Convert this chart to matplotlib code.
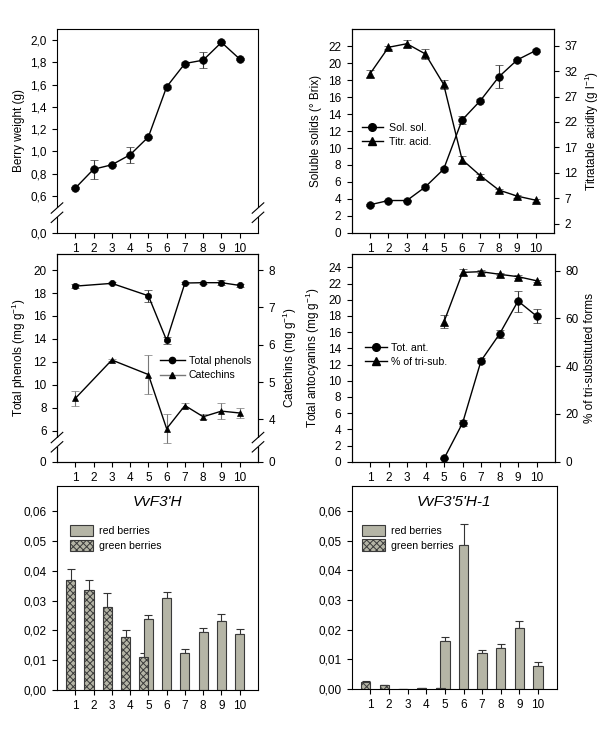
import matplotlib
matplotlib.use('Agg')
import matplotlib.pyplot as plt
import numpy as np
from matplotlib.ticker import FixedLocator, FuncFormatter
from matplotlib.lines import Line2D
from matplotlib.patches import Patch, Rectangle

plt.rcParams['font.family'] = ['Liberation Sans', 'DejaVu Sans']
plt.rcParams['font.size'] = 8.5
plt.rcParams['mathtext.default'] = 'regular'
plt.rcParams['hatch.linewidth'] = 0.7
plt.rcParams['axes.linewidth'] = 0.8

stages = np.arange(1, 11)

# berry weight (g)
weight = [0.67, 0.84, 0.88, 0.97, 1.13, 1.58, 1.79, 1.82, 1.98, 1.83]
weight_err = [0.01, 0.085, 0.01, 0.07, 0.01, 0.015, 0.01, 0.07, 0.01, 0.01]

# soluble solids (Brix) and titratable acidity (g/l)
sol_sol = [3.3, 3.8, 3.8, 5.4, 7.5, 13.3, 15.6, 18.4, 20.4, 21.5]
sol_err = [0.1, 0.1, 0.1, 0.25, 0.25, 0.45, 0.2, 1.35, 0.15, 0.2]
titr = [31.5, 36.7, 37.4, 35.4, 29.4, 14.6, 11.4, 8.6, 7.4, 6.6]
titr_err = [0.7, 0.3, 0.7, 1.0, 0.9, 0.65, 0.3, 0.3, 0.3, 0.3]

# total phenols / catechins (mg/g)
phen_x = [1, 3, 5, 6, 7, 8, 9, 10]
phenols = [18.6, 18.84, 17.76, 13.87, 18.87, 18.9, 18.9, 18.66]
phenols_err = [0.15, 0.08, 0.5, 0.3, 0.08, 0.08, 0.2, 0.1]
catechins = [4.56, 5.59, 5.2, 3.75, 4.37, 4.07, 4.22, 4.17]
catechins_err = [0.19, 0.04, 0.52, 0.4, 0.07, 0.07, 0.21, 0.13]

# anthocyanins
ant_x = [5, 6, 7, 8, 9, 10]
tot_ant = [0.4, 4.78, 12.47, 15.77, 19.84, 17.99]
tot_ant_err = [0.1, 0.35, 0.3, 0.5, 1.3, 0.9]
tri_sub = [58.7, 79.3, 79.6, 78.5, 77.5, 75.8]
tri_sub_err = [2.8, 1.3, 0.7, 0.5, 0.5, 0.5]

# gene expression
green_x = [1, 2, 3, 4, 5]
red_x = [5, 6, 7, 8, 9, 10]
f3h_green = [0.0369, 0.0336, 0.0278, 0.0178, 0.0109]
f3h_green_err = [0.0037, 0.0033, 0.0048, 0.0024, 0.0015]
f3h_red = [0.0239, 0.0308, 0.0124, 0.0193, 0.0232, 0.0189]
f3h_red_err = [0.0014, 0.0019, 0.0015, 0.0014, 0.0024, 0.0017]
f35h_green = [0.0025, 0.0012, 0.0, 0.0004, 0.0002]
f35h_green_err = [0.0003, 0.0001, 0.0, 0.0, 0.0]
f35h_red = [0.0161, 0.0484, 0.0121, 0.0137, 0.0205, 0.0078]
f35h_red_err = [0.0013, 0.0071, 0.0011, 0.0016, 0.0023, 0.0012]

W, H = 600, 730
LEG_FS = 7.6
fig = plt.figure(figsize=(6, 7.3), dpi=100)


def px_axes(l, t, r, b):
	return fig.add_axes([l / W, 1 - b / H, (r - l) / W, (b - t) / H])


def comma(dec):
	return FuncFormatter(lambda v, p: (('%.' + str(dec) + 'f') % v).replace('.', ','))


def broken(ax, cut, low):
	def fwd(v):
		v = np.asarray(v, dtype=float)
		return np.where(v < cut, v * low / cut, low + v - cut)

	def inv(d):
		d = np.asarray(d, dtype=float)
		return np.where(d < low, d * cut / low, d - low + cut)
	ax.set_yscale('function', functions=(fwd, inv))


def break_marks(ax, frac, sides):
	pos = ax.get_position()
	wpx, hpx = pos.width * W, pos.height * H
	dx, dy, sep = 5.8 / wpx, 5.2 / hpx, 9.3 / hpx
	for xs in sides:
		ax.add_patch(Rectangle((xs - 2 / wpx, frac - sep / 2), 4 / wpx, sep, transform=ax.transAxes,
			facecolor='white', edgecolor='none', clip_on=False, zorder=5))
		for yc in (frac - sep / 2, frac + sep / 2):
			ax.plot([xs - dx, xs + dx], [yc - dy, yc + dy], color='black', lw=0.8,
				transform=ax.transAxes, clip_on=False, zorder=6)


def base(ax):
	ax.set_xlim(0, 11)
	ax.xaxis.set_major_locator(FixedLocator(stages))
	ax.tick_params(direction='out', length=3.5, width=0.8, pad=4)


def line_legend(ax, labels, anchor, hl, tri_color='black', ms=5.5, tp=0.6):
	ax.legend([Line2D([], [], color='black', marker='o', lw=1, markersize=ms),
		Line2D([], [], color=tri_color, marker='^', lw=1, markersize=ms,
			markerfacecolor='black', markeredgecolor='black')],
		labels, loc='center left', bbox_to_anchor=anchor, frameon=False,
		handlelength=hl, handletextpad=tp, labelspacing=0.4, fontsize=LEG_FS,
		borderaxespad=0, borderpad=0.2)


eb = dict(capsize=3, elinewidth=0.8, capthick=0.8, lw=1, color='black', ecolor='#333333',
	markersize=5.5, markeredgewidth=0.5)

# ---- berry weight
ax1 = px_axes(57, 29, 258, 232.7)
base(ax1)
broken(ax1, 0.45, 0.18)
ax1.set_ylim(0, 2.1)
ax1.errorbar(stages, weight, yerr=weight_err, fmt='o-', **eb)
ax1.yaxis.set_major_locator(FixedLocator([0, 0.6, 0.8, 1.0, 1.2, 1.4, 1.6, 1.8, 2.0]))
ax1.yaxis.set_major_formatter(comma(1))
ax1.set_ylabel('Berry weight (g)')
break_marks(ax1, 0.18 / (0.18 + 2.1 - 0.45), (0, 1))

# ---- soluble solids / acidity
ax2 = px_axes(351.7, 29, 554, 232.7)
base(ax2)
ax2.set_ylim(0, 24.05)
ax2.yaxis.set_major_locator(FixedLocator(np.arange(0, 23, 2)))
ax2.errorbar(stages, sol_sol, yerr=sol_err, fmt='o-', **eb)
ax2.set_ylabel('Soluble solids (° Brix)')
ax2r = ax2.twinx()
ax2r.set_ylim(0.2, 40.3)
ax2r.yaxis.set_major_locator(FixedLocator(np.arange(2, 38, 5)))
ax2r.tick_params(direction='out', length=3.5, width=0.8, pad=4)
ax2r.errorbar(stages, titr, yerr=titr_err, fmt='^-', **eb)
ax2r.set_ylabel('Titratable acidity (g l$^{-1}$)')
line_legend(ax2, ['Sol. sol.', 'Titr. acid.'], (0.04, 0.48), 2.0)

# ---- phenols / catechins
ax3 = px_axes(57, 254, 258, 461.7)
base(ax3)
broken(ax3, 5.0, 1.7)
ax3.set_ylim(0, 21.4)
ax3.yaxis.set_major_locator(FixedLocator([0, 6, 8, 10, 12, 14, 16, 18, 20]))
ax3.errorbar(phen_x, phenols, yerr=phenols_err, fmt='o-', **dict(eb, markersize=4.5))
ax3.set_ylabel('Total phenols (mg g$^{-1}$)')
ax3r = ax3.twinx()
broken(ax3r, 3.365, 0.5)
ax3r.set_ylim(0, 8.43)
ax3r.yaxis.set_major_locator(FixedLocator([0, 4, 5, 6, 7, 8]))
ax3r.tick_params(direction='out', length=3.5, width=0.8, pad=4)
ax3r.errorbar(phen_x, catechins, yerr=catechins_err, fmt='^-', **dict(eb, markersize=4.5, ecolor='#777777'))
ax3r.set_ylabel('Catechins (mg g$^{-1}$)')
break_marks(ax3r, 1.7 / (1.7 + 21.4 - 5.0), (0, 1))
line_legend(ax3r, ['Total phenols', 'Catechins'], (0.5, 0.45), 2.4, tri_color='#777777', ms=4.5, tp=0.35)

# ---- anthocyanins
ax4 = px_axes(351.7, 254, 555, 461.7)
base(ax4)
ax4.set_ylim(0, 25.65)
ax4.yaxis.set_major_locator(FixedLocator(np.arange(0, 25, 2)))
ax4.errorbar(ant_x, tot_ant, yerr=tot_ant_err, fmt='o-', **eb)
ax4.set_ylabel('Total antocyanins (mg g$^{-1}$)')
ax4r = ax4.twinx()
ax4r.set_ylim(0, 87)
ax4r.yaxis.set_major_locator(FixedLocator(np.arange(0, 81, 20)))
ax4r.tick_params(direction='out', length=3.5, width=0.8, pad=4)
ax4r.errorbar(ant_x, tri_sub, yerr=tri_sub_err, fmt='^-', **eb)
ax4r.set_ylabel('% of tri-substituted forms')
line_legend(ax4, ['Tot. ant.', '% of tri-sub.'], (0.055, 0.515), 2.1, tp=0.4)

# ---- gene expression bars
red_c = '#b5b5a6'
edge_c = '#3a3a3a'


def bars(ax, title, gv, ge, rv, re, leg_x):
	base(ax)
	ax.set_ylim(0, 0.0684)
	ax.yaxis.set_major_locator(FixedLocator(np.arange(0, 0.061, 0.01)))
	ax.yaxis.set_major_formatter(comma(2))
	rx = np.array(red_x, dtype=float)
	gx = np.array(green_x, dtype=float) - 0.25
	ax.bar(rx, rv, width=0.5, color=red_c, edgecolor=edge_c, linewidth=0.8, zorder=2)
	ax.errorbar(rx, rv, yerr=[np.zeros(len(rv)), re], fmt='none', ecolor='#333333',
		elinewidth=0.8, capsize=3, capthick=0.8, zorder=1)
	ax.bar(gx, gv, width=0.5, color=red_c, edgecolor=edge_c, hatch='xxxxx', linewidth=0.8, zorder=3)
	ax.errorbar(gx, gv, yerr=[np.zeros(len(gv)), ge], fmt='none', ecolor='#333333',
		elinewidth=0.8, capsize=3, capthick=0.8, zorder=1)
	ax.text(0.5, 0.92, title, transform=ax.transAxes, ha='center', va='center',
		fontsize=11, style='italic')
	ax.legend([Patch(facecolor=red_c, edgecolor=edge_c, linewidth=0.8),
		Patch(facecolor=red_c, edgecolor=edge_c, hatch='xxxxx', linewidth=0.8)],
		['red berries', 'green berries'], loc='center left', bbox_to_anchor=(leg_x, 0.745),
		frameon=False, handlelength=2.2, handleheight=1.3, handletextpad=0.5,
		labelspacing=0.3, fontsize=LEG_FS, borderpad=0.2, borderaxespad=0)


ax5 = px_axes(57, 486, 258, 690)
bars(ax5, "VvF3'H", f3h_green, f3h_green_err, f3h_red, f3h_red_err, 0.055)
ax6 = px_axes(351.7, 486, 556.7, 689)
bars(ax6, "VvF3'5'H-1", f35h_green, f35h_green_err, f35h_red, f35h_red_err, 0.04)

fig.savefig('out.png', dpi=100)
